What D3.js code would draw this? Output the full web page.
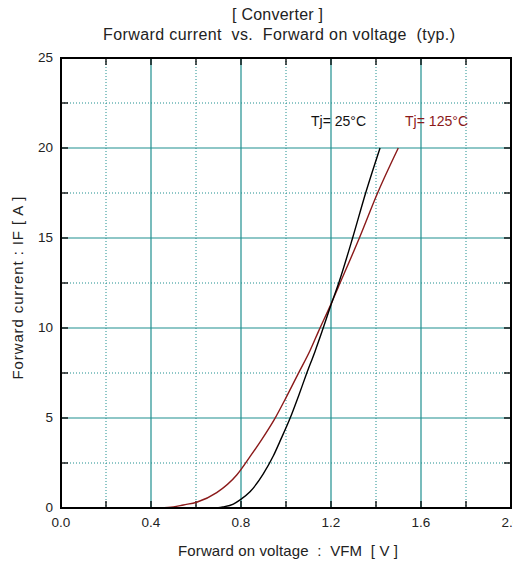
<!DOCTYPE html>
<html>
<head>
<meta charset="utf-8">
<script src="https://cdn.jsdelivr.net/npm/d3@7"></script>
<style>
  html, body { margin: 0; padding: 0; background: #fff; }
  svg { display: block; font-family: "Liberation Sans", Arial, sans-serif; }
</style>
</head>
<body>
<svg id="chart" width="513" height="566"></svg>
<script>
// Forward characteristic of the converter diode, two junction temperatures
const vf25 = [0.69, 0.72, 0.766, 0.796, 0.84, 0.899, 0.944, 0.973, 1.018, 1.055, 1.092, 1.129, 1.16, 1.199, 1.237, 1.296, 1.354, 1.418];
const if25 = [0.0, 0.06, 0.22, 0.45, 0.9, 1.9, 2.9, 3.7, 4.98, 6.2, 7.48, 8.7, 9.8, 11.25, 12.6, 15.0, 17.5, 20.0];

const vf125 = [0.44, 0.50, 0.544, 0.603, 0.692, 0.781, 0.84, 0.892, 0.951, 1.003, 1.055, 1.107, 1.144, 1.199, 1.23, 1.326, 1.407, 1.499];
const if125 = [0.0, 0.06, 0.17, 0.32, 0.85, 1.83, 2.85, 3.8, 4.98, 6.2, 7.48, 8.75, 9.8, 11.3, 12.2, 15.0, 17.5, 20.0];

const xTickLabels = ["0.0", "0.4", "0.8", "1.2", "1.6", "2.0"];
const yTickLabels = ["0", "5", "10", "15", "20", "25"];
const xMinor = [0.2, 0.6, 1.0, 1.4, 1.8];
const yMinor = [2.5, 7.5, 12.5, 17.5, 22.5];

const svg = d3.select("#chart");
const pLeft = 61, pRight = 511, pTop = 58, pBottom = 508;

const x = d3.scaleLinear().domain([0, 2]).range([pLeft, pRight]);
const y = d3.scaleLinear().domain([0, 25]).range([pBottom, pTop]);

const teal = "#1f8f8f";

// dotted minor grid
svg.append("g").selectAll("line").data(xMinor).join("line")
  .attr("x1", d => x(d)).attr("x2", d => x(d)).attr("y1", pTop).attr("y2", pBottom)
  .attr("stroke", teal).attr("stroke-width", 1).attr("stroke-dasharray", "1,2");
svg.append("g").selectAll("line").data(yMinor).join("line")
  .attr("y1", d => y(d)).attr("y2", d => y(d)).attr("x1", pLeft).attr("x2", pRight)
  .attr("stroke", teal).attr("stroke-width", 1).attr("stroke-dasharray", "1,2");

// solid major grid
const xMajor = xTickLabels.map(Number).filter(v => v > 0 && v < 2);
const yMajor = yTickLabels.map(Number).filter(v => v > 0 && v < 25);
svg.append("g").selectAll("line").data(xMajor).join("line")
  .attr("x1", d => x(d)).attr("x2", d => x(d)).attr("y1", pTop).attr("y2", pBottom)
  .attr("stroke", teal).attr("stroke-width", 1.2);
svg.append("g").selectAll("line").data(yMajor).join("line")
  .attr("y1", d => y(d)).attr("y2", d => y(d)).attr("x1", pLeft).attr("x2", pRight)
  .attr("stroke", teal).attr("stroke-width", 1.2);

// inward ticks on all four sides
const xAll = d3.range(0, 2.0001, 0.2);
const yAll = d3.range(0, 25.0001, 2.5);
const tl = 7;
const ticks = svg.append("g").attr("stroke", "#000").attr("stroke-width", 1.3);
ticks.selectAll(".tb").data(xAll).join("line")
  .attr("x1", d => x(d)).attr("x2", d => x(d)).attr("y1", pBottom).attr("y2", pBottom - tl);
ticks.selectAll(".tt").data(xAll).join("line")
  .attr("x1", d => x(d)).attr("x2", d => x(d)).attr("y1", pTop).attr("y2", pTop + tl);
ticks.selectAll(".tl").data(yAll).join("line")
  .attr("y1", d => y(d)).attr("y2", d => y(d)).attr("x1", pLeft).attr("x2", pLeft + tl);
ticks.selectAll(".tr").data(yAll).join("line")
  .attr("y1", d => y(d)).attr("y2", d => y(d)).attr("x1", pRight).attr("x2", pRight - tl);

// curves
const line = d3.line().x(d => x(d[0])).y(d => y(d[1])).curve(d3.curveMonotoneX);
svg.append("path").datum(d3.zip(vf125, if125)).attr("d", line)
  .attr("fill", "none").attr("stroke", "#8b1a1a").attr("stroke-width", 1.4);
svg.append("path").datum(d3.zip(vf25, if25)).attr("d", line)
  .attr("fill", "none").attr("stroke", "#000").attr("stroke-width", 1.4);

// frame
svg.append("rect").attr("x", pLeft).attr("y", pTop)
  .attr("width", pRight - pLeft).attr("height", pBottom - pTop)
  .attr("fill", "none").attr("stroke", "#000").attr("stroke-width", 2);

// tick labels
svg.append("g").selectAll("text").data(xTickLabels).join("text")
  .attr("x", d => x(+d)).attr("y", pBottom + 19)
  .attr("text-anchor", "middle").attr("font-size", 13.5).attr("fill", "#222")
  .text(d => d);
svg.append("g").selectAll("text").data(yTickLabels).join("text")
  .attr("x", pLeft - 8).attr("y", d => y(+d) + 4)
  .attr("text-anchor", "end").attr("font-size", 13.5).attr("fill", "#222")
  .text(d => d);

// titles
svg.append("text").attr("x", 277.5).attr("y", 20).attr("text-anchor", "middle")
  .attr("font-size", 16).attr("fill", "#222")
  .attr("textLength", 91).attr("lengthAdjust", "spacing")
  .text("[ Converter ]");
svg.append("text").attr("x", 279).attr("y", 40).attr("text-anchor", "middle")
  .attr("font-size", 16).attr("fill", "#222").style("white-space", "pre")
  .attr("textLength", 352).attr("lengthAdjust", "spacing")
  .text("Forward current  vs.  Forward on voltage  (typ.)");

svg.append("text").attr("x", 288).attr("y", 556).attr("text-anchor", "middle")
  .attr("font-size", 15).attr("fill", "#222").style("white-space", "pre")
  .attr("textLength", 220).attr("lengthAdjust", "spacing")
  .text("Forward on voltage  :  VFM  [ V ]");
svg.append("text")
  .attr("transform", "translate(23,288) rotate(-90)")
  .attr("text-anchor", "middle").attr("font-size", 15).attr("fill", "#222")
  .style("white-space", "pre")
  .attr("textLength", 183).attr("lengthAdjust", "spacing")
  .text("Forward current : IF [ A ]");

// series labels
svg.append("text").attr("x", 311).attr("y", 126).attr("font-size", 14)
  .attr("fill", "#111").attr("textLength", 55).attr("lengthAdjust", "spacing")
  .text("Tj= 25°C");
svg.append("text").attr("x", 405).attr("y", 126).attr("font-size", 14)
  .attr("fill", "#8b1a1a").attr("textLength", 63).attr("lengthAdjust", "spacing")
  .text("Tj= 125°C");
</script>
</body>
</html>
